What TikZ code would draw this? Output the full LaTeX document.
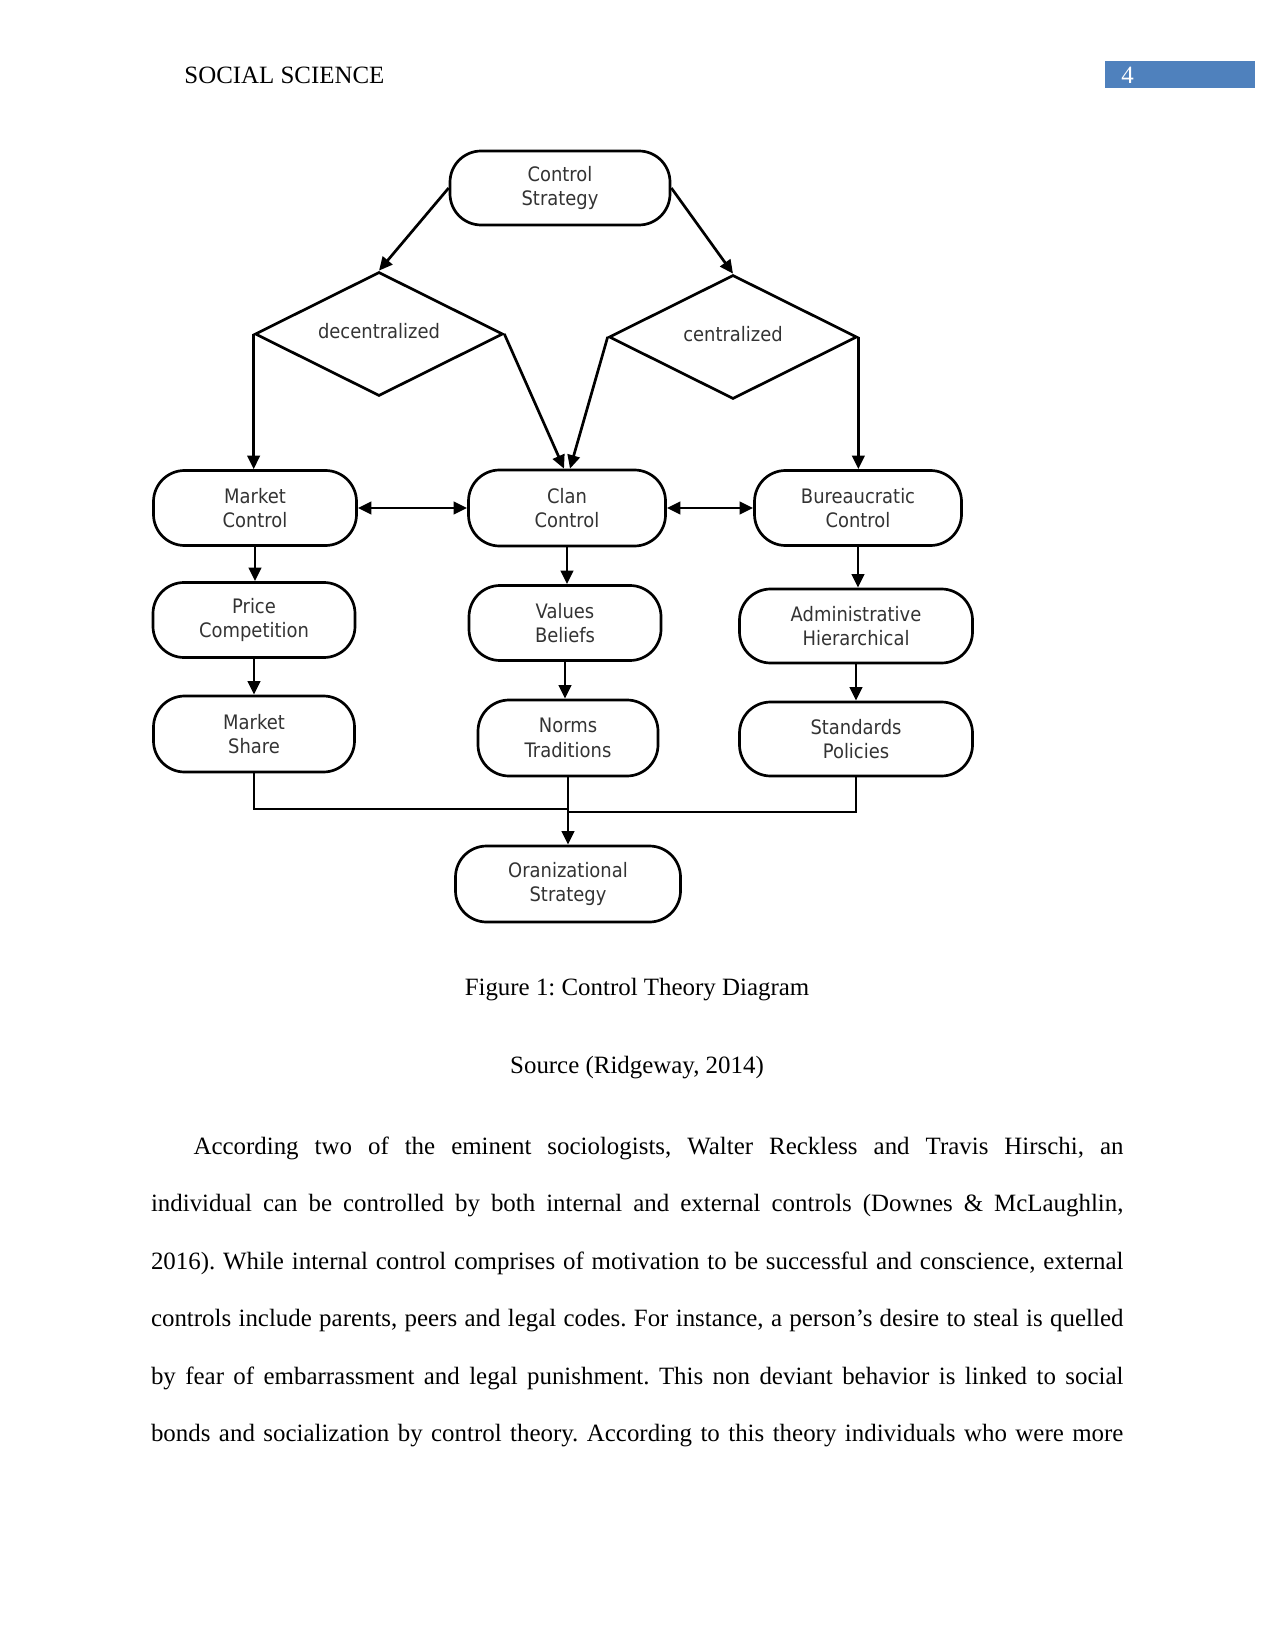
\documentclass[tikz,border=0pt]{standalone}
\usepackage{fontspec}
\setmainfont{Liberation Serif}
\newfontfamily\diafont[FakeStretch=0.9]{DejaVu Sans}
\usetikzlibrary{arrows.meta,shapes.geometric,calc}
\def\pxu{0.4818pt}
\definecolor{hdrblue}{HTML}{4F81BD}
\begin{document}
\begin{tikzpicture}[x=0.4818pt,y=-0.4818pt,
  conn/.style={line width=1.3pt, draw=black},
  arr/.style={conn,-{Triangle[length=6.5pt,width=6pt]}},
  arrb/.style={conn,{Triangle[length=6.5pt,width=6pt]}-{Triangle[length=6.5pt,width=6pt]}},
  term/.style={draw, line width=1.3pt, rounded corners=15pt, align=center, inner sep=1pt,
    font=\diafont\fontsize{9.6pt}{11.8pt}\selectfont, text=black!80},
  dia/.style={draw, diamond, shape aspect=2, line width=1.3pt, inner sep=0pt,
    minimum width=248*\pxu, minimum height=124*\pxu,
    font=\diafont\fontsize{9.6pt}{11.8pt}\selectfont, text=black!80},
  serif/.style={inner sep=0pt, font=\fontsize{12pt}{14pt}\selectfont\frenchspacing},
  line/.style={serif, anchor=base west},
]
\useasboundingbox (0,0) rectangle (1275,1651);

% header
\node[serif, anchor=base west] (hdr) at (184,84) {SOCIAL SCIENCE};
\node[fill=hdrblue, inner sep=0pt, anchor=north west, minimum width=150*\pxu, minimum height=27*\pxu] (pgbox) at (1105,61) {};
\node[serif, anchor=base west, text=white] (pgnum) at (1121,84) {4};

% diagram nodes
\node[term, minimum width=220*\pxu, minimum height=74*\pxu] (cs) at (560,188) {Control\\Strategy};
\node[dia] (dec) at (379,334) {\raisebox{3pt}{decentralized}};
\node[dia] (cen) at (733,337) {\raisebox{3pt}{centralized}};

\node[term, minimum width=203*\pxu, minimum height=75*\pxu] (mc) at (255,508) {Market\\Control};
\node[term, minimum width=197*\pxu, minimum height=76*\pxu] (cc) at (567,508) {Clan\\Control};
\node[term, minimum width=207*\pxu, minimum height=75*\pxu] (bc) at (858,508) {Bureaucratic\\Control};

\node[term, minimum width=202*\pxu, minimum height=75*\pxu] (pc) at (254,620) {Price\\Competition};
\node[term, minimum width=192*\pxu, minimum height=75*\pxu] (vb) at (565,623) {Values\\Beliefs};
\node[term, minimum width=233*\pxu, minimum height=74*\pxu] (ah) at (856,626) {Administrative\\Hierarchical};

\node[term, minimum width=201*\pxu, minimum height=76*\pxu] (ms) at (254,734) {Market\\Share};
\node[term, minimum width=180*\pxu, minimum height=76*\pxu] (nt) at (568,738) {Norms\\Traditions};
\node[term, minimum width=233*\pxu, minimum height=74*\pxu] (sp) at (856,739) {Standards\\Policies};

\node[term, minimum width=225*\pxu, minimum height=76*\pxu] (os) at (568,884) {Oranizational\\Strategy};

% connectors
\draw[arr] (cs.west) -- (dec.north);
\draw[arr] (cs.east) -- (cen.north);
\draw[arr] (dec.west) -- (dec.west |- mc.north);
\draw[arr] (dec.east) -- ([xshift=-3*\pxu]cc.north);
\draw[arr] (cen.west) -- ([xshift=3*\pxu]cc.north);
\draw[arr] (cen.east) -- (cen.east |- bc.north);
\draw[arrb] (mc.east) -- (cc.west);
\draw[arrb] (cc.east) -- (bc.west);

\draw[arr] (mc.south) -- (mc.south |- pc.north);
\draw[arr] (pc.south) -- (pc.south |- ms.north);
\draw[arr] (cc.south) -- (cc.south |- vb.north);
\draw[arr] (vb.south) -- (vb.south |- nt.north);
\draw[arr] (bc.south) -- (bc.south |- ah.north);
\draw[arr] (ah.south) -- (ah.south |- sp.north);

\coordinate (jl) at (568,809);
\coordinate (jr) at (568,812);
\draw[conn] (ms.south) |- (jl);
\draw[conn] (sp.south) |- (jr);
\draw[arr] (nt.south) -- (os.north);

% captions
\node[serif, anchor=base] (cap) at (637,995) {Figure 1: Control Theory Diagram};
\node[serif, anchor=base] (src) at (637,1073) {Source (Ridgeway, 2014)};

% paragraph
\node[line] (l1) at (150.6,1154) {\makebox[468.5pt][s]{\hspace*{20.5pt}According two of the eminent sociologists, Walter Reckless and Travis Hirschi, an}};
\node[line] (l2) at (150.6,1211.5) {\makebox[468.5pt][s]{individual can be controlled by both internal and external controls (Downes \& McLaughlin,}};
\node[line] (l3) at (150.6,1269) {\makebox[468.5pt][s]{2016). While internal control comprises of motivation to be successful and conscience, external}};
\node[line] (l4) at (150.6,1326.5) {\makebox[468.5pt][s]{controls include parents, peers and legal codes. For instance, a person’s desire to steal is quelled}};
\node[line] (l5) at (150.6,1384) {\makebox[468.5pt][s]{by fear of embarrassment and legal punishment. This non deviant behavior is linked to social}};
\node[line] (l6) at (150.6,1441.5) {\makebox[468.5pt][s]{bonds and socialization by control theory. According to this theory individuals who were more}};
\end{tikzpicture}
\end{document}
